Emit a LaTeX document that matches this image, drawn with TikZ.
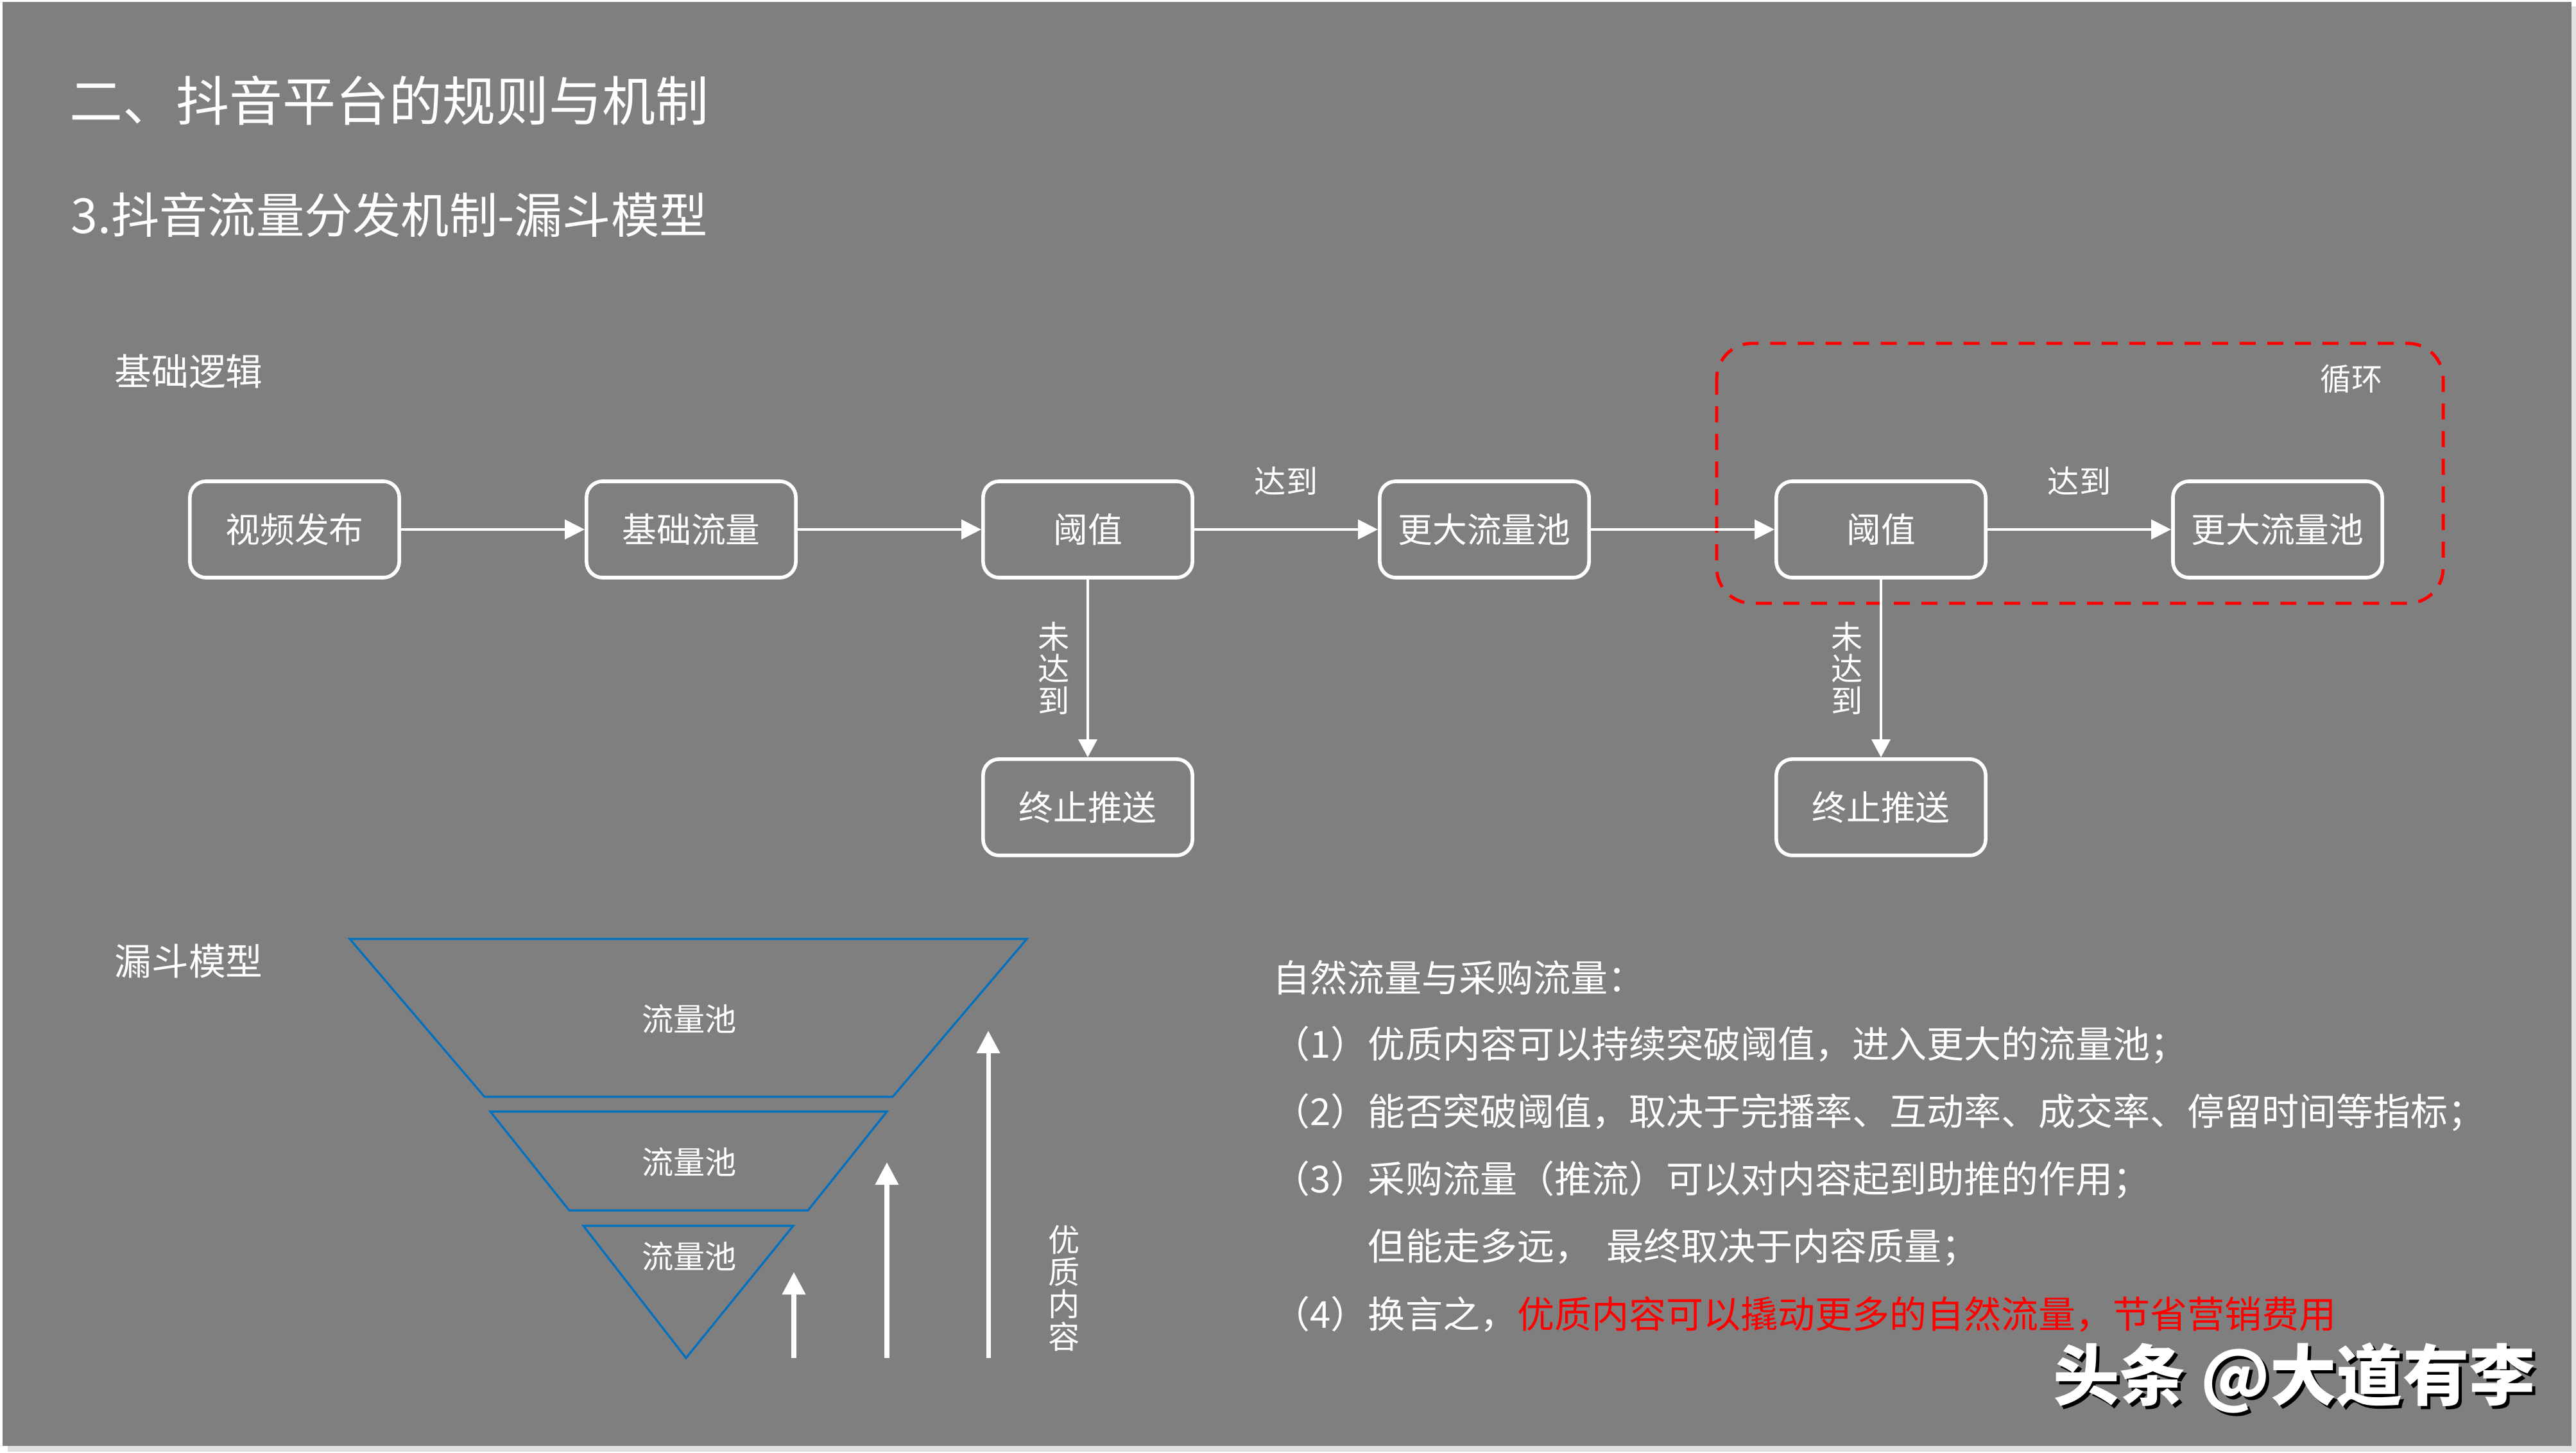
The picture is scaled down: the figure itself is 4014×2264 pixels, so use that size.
\documentclass[tikz,border=0pt]{standalone}
\usepackage{fontspec}
\setmainfont{Noto Sans CJK SC}
\usetikzlibrary{arrows.meta,positioning,shadows}
\definecolor{slidegray}{RGB}{127,127,127}
\definecolor{poolblue}{RGB}{0,112,192}
\definecolor{markred}{RGB}{255,0,0}
\tikzset{
  flowbox/.style={draw=white, line width=1.6pt, rounded corners=0.25cm, fill=slidegray,
    minimum width=3.26cm, minimum height=1.5cm, text=white,
    font=\fontsize{15.3}{18}\selectfont,
    drop shadow={shadow xshift=0.5mm, shadow yshift=-0.5mm, opacity=0.35}},
  flowarrow/.style={draw=white, line width=1.4pt, -{Triangle[length=0.31cm,width=0.30cm]}},
  downarrow/.style={draw=white, line width=1.1pt, -{Triangle[length=0.28cm,width=0.29cm]}},
  uparrow/.style={draw=white, line width=2pt, -{Triangle[length=0.35cm,width=0.35cm]}},
  plain/.style={text=white, inner sep=0pt},
  vlabel/.style={plain, font=\fontsize{14}{14.3}\selectfont, align=center},
  pool/.style={draw=poolblue, line width=0.9pt, line join=miter},
  note/.style={plain, anchor=west, font=\fontsize{16.5}{20}\selectfont}
}
\begin{document}
\begin{tikzpicture}[x=0.01cm, y=-0.01cm]
  \useasboundingbox (0,0) rectangle (4014,2264);
  \fill[black!12] (12,10) rectangle (4014,2262);
  \fill[slidegray] (4,3) rectangle (4007,2253);

  \node[plain, anchor=west, font=\fontsize{23.6}{28}\selectfont] (title) at (108,157) {二、抖音平台的规则与机制};
  \node[plain, anchor=west, font=\fontsize{21.4}{26}\selectfont] (subtitle) at (110,335) {3.抖音流量分发机制-漏斗模型};
  \node[plain, font=\fontsize{16.4}{20}\selectfont] (logic) at (294,579) {基础逻辑};
  \node[plain, font=\fontsize{16.4}{20}\selectfont] (funnel) at (294,1498) {漏斗模型};

  \draw[markred, line width=1.4pt, dash pattern=on 0.25cm off 0.18cm, rounded corners=0.55cm]
    (2675,535) rectangle (3807,940);
  \node[plain, font=\fontsize{13.7}{16}\selectfont] (loop) at (3664,590) {循环};

  \foreach \name/\txt [count=\i from 0] in {pub/视频发布, base/基础流量, th1/阈值, big1/更大流量池, th2/阈值, big2/更大流量池}
    \node[flowbox] (\name) at (459+618*\i, 825) {\txt};
  \node[flowbox, below=2.77cm of th1] (stop1) {终止推送};
  \node[flowbox, below=2.77cm of th2] (stop2) {终止推送};

  \foreach \a/\b in {pub/base, base/th1, big1/th2}
    \draw[flowarrow] (\a) -- (\b);
  \foreach \a/\b in {th1/big1, th2/big2}
    \draw[flowarrow] (\a) -- (\b) node[plain, midway, yshift=0.75cm, font=\fontsize{14}{16}\selectfont] {达到};
  \foreach \a/\b in {th1/stop1, th2/stop2}
    \draw[downarrow] (\a) -- (\b) node[vlabel, midway, left=0.26cm] {未\\达\\到};

  \draw[pool] (545,1463) -- (1600,1463) -- (1391,1709) -- (755,1709) -- cycle;
  \draw[pool] (764,1732) -- (1382,1732) -- (1259,1886) -- (887,1886) -- cycle;
  \draw[pool] (909,1910) -- (1236,1910) -- (1069,2116) -- cycle;
  \foreach \y [count=\i] in {1588,1811,1958}
    \node[plain, font=\fontsize{14}{16}\selectfont] (pool\i) at (1074,\y) {流量池};
  \foreach \x/\y in {1237/1982, 1382/1811, 1540/1606}
    \draw[uparrow] (\x,2116) -- (\x,\y);
  \node[vlabel] (quality) at (1658,2007) {优\\质\\内\\容};

  \foreach \y/\txt [count=\i] in {
      1523/{自然流量与采购流量：},
      1628/{（1）优质内容可以持续突破阈值，进入更大的流量池；},
      1733/{（2）能否突破阈值，取决于完播率、互动率、成交率、停留时间等指标；},
      1838/{（3）采购流量（推流）可以对内容起到助推的作用；},
      1943/{\phantom{（3）}但能走多远，\hspace{0.4em}最终取决于内容质量；},
      2048/{（4）换言之，\textcolor{markred}{优质内容可以撬动更多的自然流量，节省营销费用}}}
    \node[note] (line\i) at (1983,\y) {\txt};

  \node[plain, text=black, font=\fontsize{29.4}{34}\selectfont\bfseries] at (3580,2152) {头条 @大道有李};
  \node[plain, font=\fontsize{29.4}{34}\selectfont\bfseries] (mark) at (3575,2147) {头条 @大道有李};
\end{tikzpicture}
\end{document}
